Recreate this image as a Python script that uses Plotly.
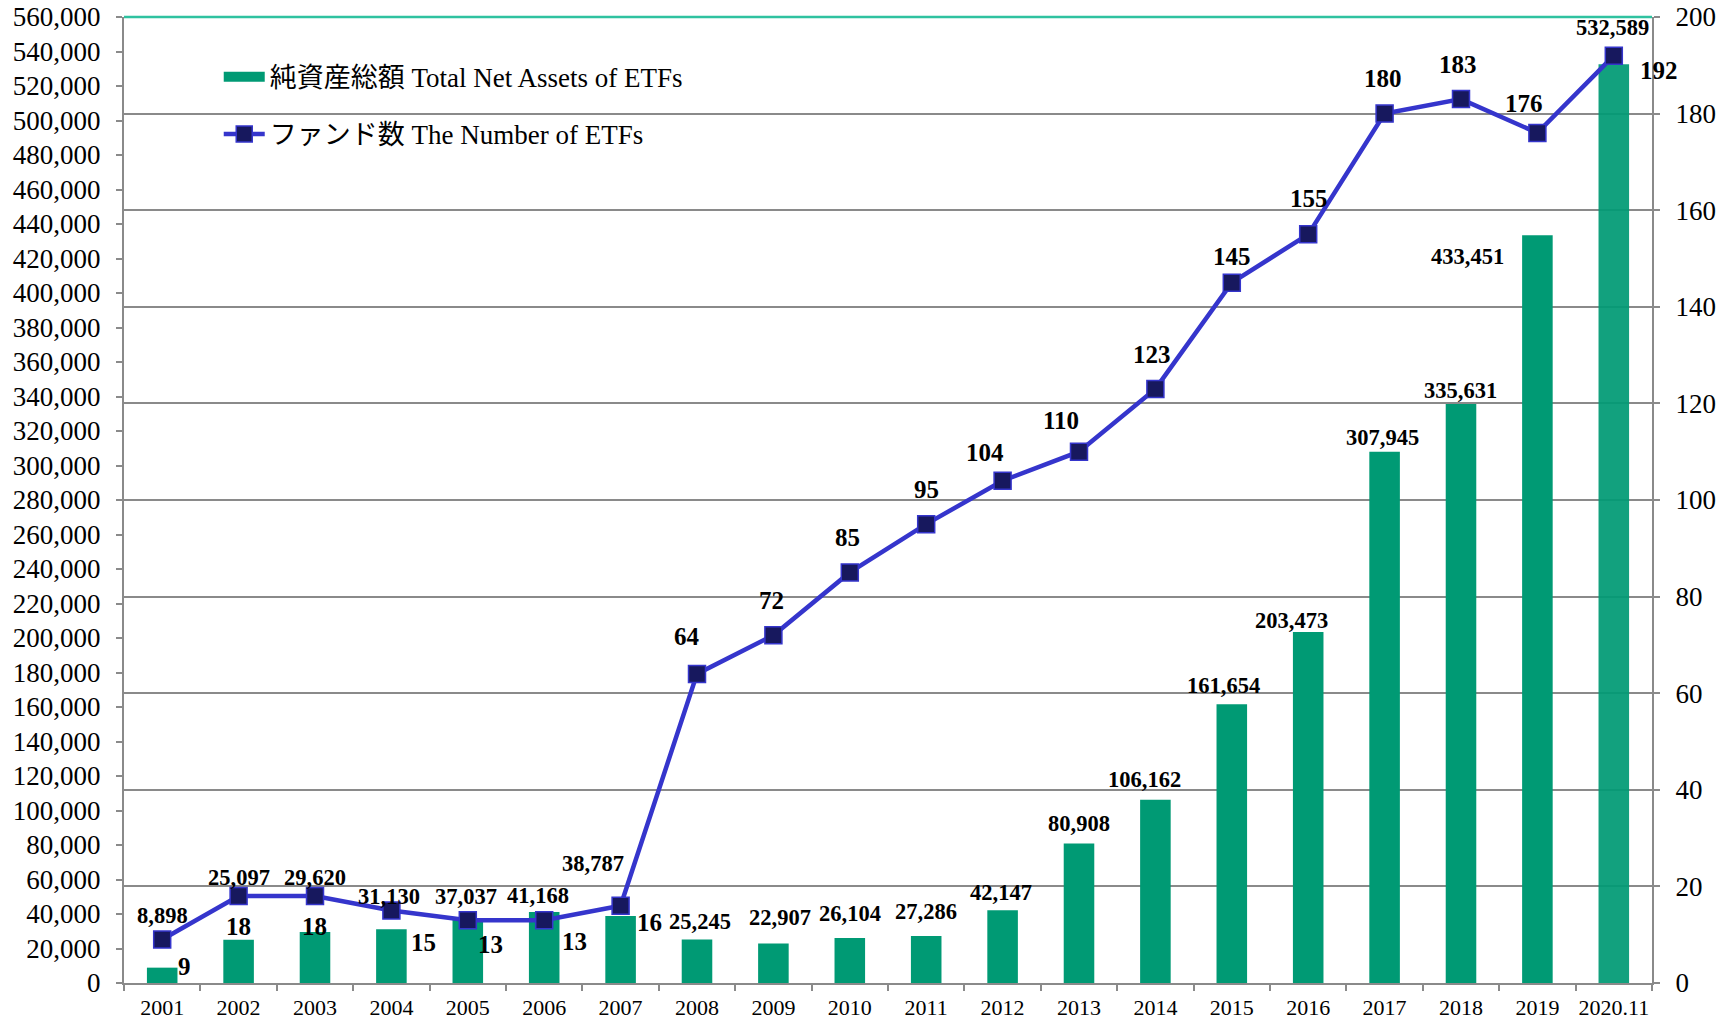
import plotly.graph_objects as go

categories = ["2001", "2002", "2003", "2004", "2005", "2006", "2007", "2008", "2009", "2010",
              "2011", "2012", "2013", "2014", "2015", "2016", "2017", "2018", "2019", "2020.11"]
net_assets = [8898, 25097, 29620, 31130, 37037, 41168, 38787, 25245, 22907, 26104,
              27286, 42147, 80908, 106162, 161654, 203473, 307945, 335631, 433451, 532589]
fund_counts = [9, 18, 18, 15, 13, 13, 16, 64, 72, 85,
               95, 104, 110, 123, 145, 155, 180, 183, 176, 192]

left_ticks = list(range(0, 560001, 20000))
right_ticks = list(range(0, 201, 20))

# label offsets (pixels) relative to the data point: (xshift, yshift)
asset_label_shift = [(0, 52), (0, 62), (0, 54), (-2, 33), (-2, 23), (-6, 16), (-28, 53), (3, 18),
                     (7, 26), (0, 24), (0, 24), (-2, 18), (0, 20), (-11, 20), (-8, 19), (-17, 12),
                     (-2, 14), (-1, 14), (-70, -21), (-1, 37)]
count_label_shift = [(22, -27), (0, -30), (-1, -30), (32, -32), (23, -24), (30, -21), (29, -17),
                     (-10, 37), (-2, 35), (-2, 35), (0, 35), (-18, 28), (-18, 31), (-3, 34),
                     (0, 26), (1, 36), (-2, 35), (-3, 35), (-13, 29), (45, -15)]

SERIF = "Liberation Serif, Times New Roman, Noto Sans CJK JP, serif"
GREEN = "#009a74"
BLUE = "#3535cc"
NAVY = "#17185e"
GRAY = "#8a8a8a"

bar_colors = [GREEN] * (len(categories) - 1) + ["rgba(0,154,116,0.93)"]

fig = go.Figure()
fig.add_trace(go.Bar(
    x=categories, y=net_assets, name="純資産総額 Total Net Assets of ETFs",
    marker=dict(color=bar_colors, line=dict(width=0)), width=0.4, yaxis="y",
    showlegend=False,
))
# legend entry for the bars (wide swatch like the original)
fig.add_trace(go.Scatter(
    x=[None], y=[None], name="純資産総額 Total Net Assets of ETFs", mode="lines",
    line=dict(color=GREEN, width=14), yaxis="y", legendgroup="a", showlegend=True,
    hoverinfo="skip",
))
fig.add_trace(go.Scatter(
    x=categories, y=fund_counts, name="ファンド数 The Number of ETFs", mode="lines+markers",
    line=dict(color=BLUE, width=4.5),
    marker=dict(symbol="square", size=17, color=NAVY, line=dict(color=BLUE, width=1.5)),
    yaxis="y2", legendgroup="b",
))

annotations = []
for i, (v, (dx, dy)) in enumerate(zip(net_assets, asset_label_shift)):
    annotations.append(dict(x=i, y=v, xref="x", yref="y", text=f"<b>{v:,}</b>", showarrow=False,
                            xshift=dx, yshift=dy, xanchor="center", yanchor="middle",
                            font=dict(family=SERIF, size=22.5, color="#000000")))
for i, (n, (dx, dy)) in enumerate(zip(fund_counts, count_label_shift)):
    annotations.append(dict(x=i, y=n, xref="x", yref="y2", text=f"<b>{n}</b>", showarrow=False,
                            xshift=dx, yshift=dy, xanchor="center", yanchor="middle",
                            font=dict(family=SERIF, size=25, color="#000000")))

fig.update_layout(
    template="none",
    width=1724, height=1020,
    margin=dict(l=124, r=72, t=17, b=37, autoexpand=False),
    paper_bgcolor="white", plot_bgcolor="white",
    font=dict(family=SERIF, color="#000000"),
    showlegend=True,
    legend=dict(x=0.062, y=0.963, xanchor="left", yanchor="top", bgcolor="rgba(0,0,0,0)",
                font=dict(family=SERIF, size=27, color="#000000"),
                traceorder="grouped", tracegroupgap=19, itemwidth=41),
    xaxis=dict(type="category", categoryorder="array", categoryarray=categories,
               range=[-0.5, len(categories) - 0.5], autorange=False,
               showgrid=False, showline=True, linecolor=GRAY, linewidth=2,
               ticks="outside", tickson="boundaries", ticklen=6, tickcolor=GRAY, tickwidth=2,
               tickangle=0, ticklabelstandoff=4,
               tickfont=dict(family=SERIF, size=22, color="#000000"), automargin=False,
               zeroline=False),
    yaxis=dict(range=[0, 560000], tickvals=left_ticks, tickformat=",d", showgrid=False,
               showline=True, linecolor=GRAY, linewidth=2, ticks="outside", ticklen=6,
               tickcolor=GRAY, tickwidth=2, ticklabelstandoff=10,
               tickfont=dict(family=SERIF, size=27, color="#000000"),
               automargin=False, zeroline=False),
    yaxis2=dict(range=[0, 200], tickvals=right_ticks, overlaying="y", side="right",
                showgrid=True, gridcolor=GRAY, gridwidth=1.6, showline=True, linecolor=GRAY,
                linewidth=2, ticks="outside", ticklen=6, tickcolor=GRAY, tickwidth=2,
                ticklabelstandoff=10,
                tickfont=dict(family=SERIF, size=27, color="#000000"), automargin=False,
                zeroline=False),
    annotations=annotations,
    shapes=[dict(type="line", xref="paper", yref="paper", x0=0, x1=1, y0=1, y1=1,
                 line=dict(color="#2fc2a0", width=2.5))],
)

fig.write_html("out.html", config={"displayModeBar": False},
               post_script="document.body.style.margin='0';document.body.style.overflow='hidden';")
